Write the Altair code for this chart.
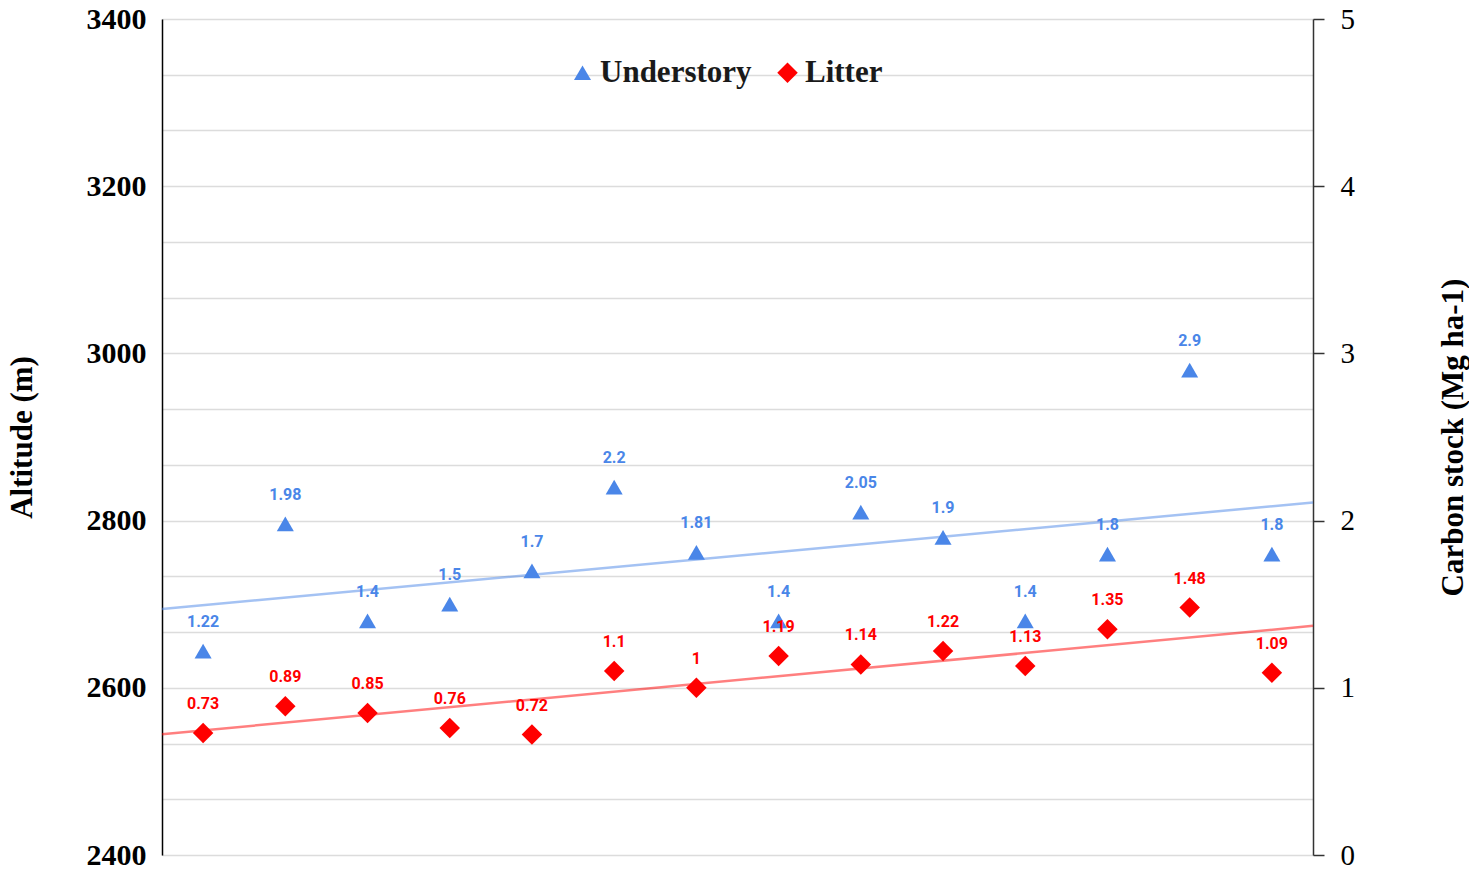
import altair as alt
import pandas as pd

# Data
site = list(range(1, 15))
understory = [1.22, 1.98, 1.4, 1.5, 1.7, 2.2, 1.81, 1.4, 2.05, 1.9, 1.4, 1.8, 2.9, 1.8]
litter = [0.73, 0.89, 0.85, 0.76, 0.72, 1.1, 1.0, 1.19, 1.14, 1.22, 1.13, 1.35, 1.48, 1.09]
series_names = ["Understory", "Litter"]
altitude_base = 2400      # altitude at 0 Mg ha-1 on the shared scale
altitude_per_unit = 200   # metres per 1 Mg ha-1

df = pd.DataFrame({
    "idx": site * 2,
    "carbon": understory + litter,
    "series": ["Understory"] * len(site) + ["Litter"] * len(site),
})

BLUE = "#4a86e8"
RED = "#ff0000"
SERIF = "Liberation Serif"

xenc = alt.X("idx:Q", scale=alt.Scale(domain=[0.5, 14.5], nice=False, zero=False), axis=None)
yscale = alt.Scale(domain=[0, 5], nice=False, zero=False)

grid_vals = [k / 3 for k in range(16)]

left_axis = alt.Axis(
    orient="left", values=grid_vals, grid=True, gridColor="#dcdcdc", gridWidth=1.3,
    ticks=False, domain=True, domainColor="#000000", domainWidth=1.5,
    labelExpr=f"abs(datum.value - round(datum.value)) < 0.001 ? format({altitude_base} + {altitude_per_unit} * round(datum.value), 'd') : ''",
    labelFont=SERIF, labelFontWeight="bold", labelFontSize=30, labelColor="#000000",
    labelPadding=16, labelBaseline="middle",
    title="Altitude (m)", titleFont=SERIF, titleFontWeight="bold", titleFontSize=31,
    titleColor="#000000", titlePadding=48,
)

right_axis = alt.Axis(
    orient="right", values=[0, 1, 2, 3, 4, 5], grid=False,
    ticks=True, tickSize=11, tickColor="#333333", tickWidth=1.5,
    domain=True, domainColor="#333333", domainWidth=1.5,
    labelFont=SERIF, labelFontWeight="normal", labelFontSize=29, labelColor="#000000",
    labelPadding=16, labelBaseline="middle",
    title="Carbon stock (Mg ha-1)", titleFont=SERIF, titleFontWeight="bold", titleFontSize=31,
    titleColor="#000000", titlePadding=115, titleAngle=270,
)

base = alt.Chart(df)

lines = base.transform_regression(
    "idx", "carbon", groupby=["series"], extent=[0.5, 14.5]
).mark_line(strokeWidth=2.5, opacity=0.5).encode(
    x=xenc,
    y=alt.Y("carbon:Q", scale=yscale, axis=left_axis),
    detail="series:N",
    color=alt.condition(alt.datum.series == "Understory", alt.value(BLUE), alt.value(RED)),
)

points = base.mark_point(filled=True, opacity=1, strokeWidth=0).encode(
    x=xenc,
    y=alt.Y("carbon:Q", scale=yscale, axis=right_axis),
    color=alt.Color("series:N", scale=alt.Scale(domain=series_names, range=[BLUE, RED]),
                    legend=alt.Legend(
                        title=None, orient="none", legendX=405, legendY=38,
                        direction="horizontal", labelFont=SERIF, labelFontWeight="bold",
                        labelFontSize=31, labelColor="#1a1a1a", symbolSize=160,
                        labelOffset=2, columnPadding=20, symbolStrokeWidth=0,
                    )),
    shape=alt.Shape("series:N", scale=alt.Scale(domain=series_names, range=["triangle-up", "diamond"])),
    size=alt.Size("series:N", scale=alt.Scale(domain=series_names, range=[290, 420]), legend=None),
)

labels = base.mark_text(dy=-29, font="Roboto", fontWeight="bold", fontSize=16, baseline="middle").encode(
    x=xenc,
    y=alt.Y("carbon:Q", scale=yscale, axis=None),
    text=alt.Text("carbon:Q", format="~g"),
    color=alt.condition(alt.datum.series == "Understory", alt.value(BLUE), alt.value(RED)),
)

chart = alt.layer(lines, points, labels).resolve_scale(y="independent").properties(
    width=1151, height=836,
    autosize=alt.AutoSizeParams(type="none"),
    padding={"left": 154, "top": 11, "right": 156, "bottom": 18},
).configure_view(strokeWidth=0).configure(background="white")

chart.save("out.html", embed_options={"renderer": "svg", "actions": False})
